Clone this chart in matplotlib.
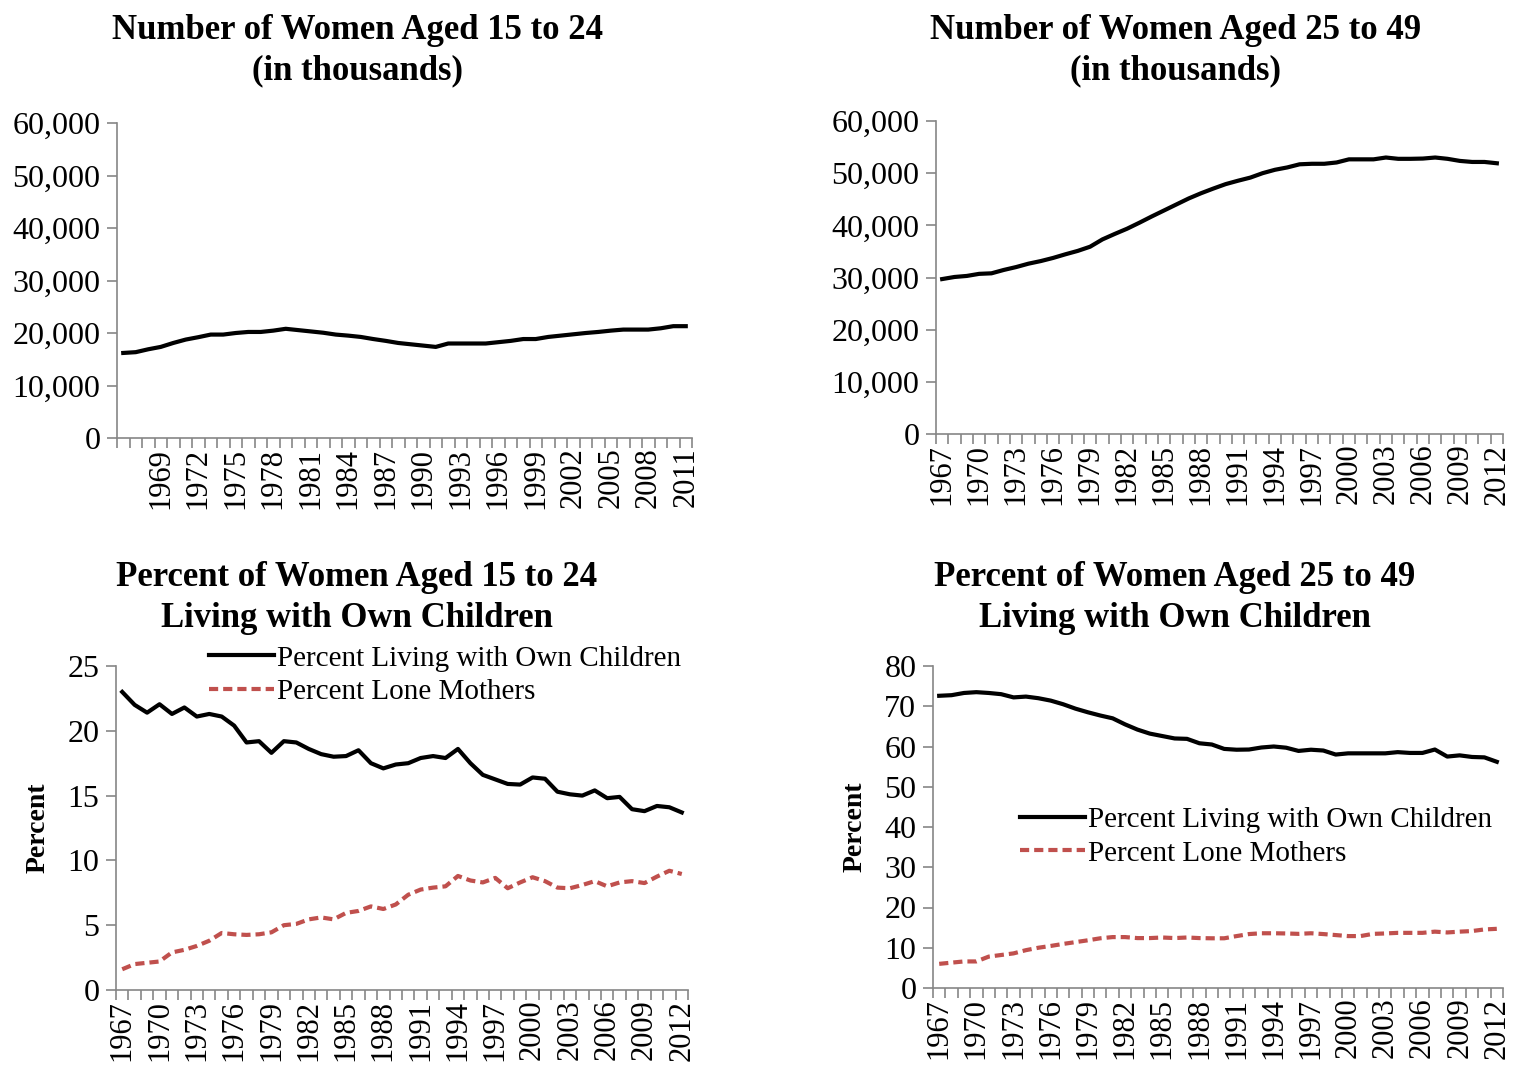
import matplotlib
matplotlib.use("Agg")
import matplotlib.pyplot as plt
from matplotlib.ticker import FuncFormatter, FixedLocator

plt.rcParams['font.family'] = ['Liberation Serif', 'DejaVu Serif']

# data
years_a = list(range(1966, 2012))
years_b = list(range(1967, 2013))

women_15_24 = [16200, 16350, 16900, 17350, 18100, 18750, 19200, 19700, 19700, 20000,
               20200, 20200, 20450, 20800, 20550, 20300, 20050, 19700, 19500, 19250,
               18850, 18500, 18100, 17850, 17600, 17350, 18000, 18000, 18000, 18000,
               18250, 18500, 18850, 18850, 19250, 19500, 19750, 20000, 20200, 20450,
               20650, 20650, 20650, 20900, 21300, 21300]

women_25_49 = [29700, 30100, 30300, 30700, 30800, 31450, 32000, 32650, 33150, 33750,
               34450, 35100, 35900, 37300, 38350, 39350, 40500, 41700, 42850, 44000,
               45150, 46150, 47050, 47900, 48550, 49150, 50000, 50650, 51100, 51700,
               51800, 51800, 52050, 52650, 52650, 52650, 53000, 52750, 52750, 52800,
               53000, 52750, 52350, 52150, 52150, 51900]

own_15_24 = [23.0, 22.0, 21.4, 22.05, 21.3, 21.8, 21.1, 21.3, 21.1, 20.4,
             19.1, 19.2, 18.3, 19.2, 19.1, 18.6, 18.2, 18.0, 18.05, 18.5,
             17.5, 17.1, 17.4, 17.5, 17.9, 18.05, 17.9, 18.6, 17.5, 16.6,
             16.25, 15.9, 15.85, 16.4, 16.3, 15.3, 15.1, 15.0, 15.4, 14.8,
             14.9, 13.95, 13.8, 14.2, 14.1, 13.7]

lone_15_24 = [1.6, 2.0, 2.1, 2.2, 2.9, 3.1, 3.4, 3.8, 4.4, 4.3,
              4.25, 4.3, 4.45, 5.0, 5.1, 5.45, 5.6, 5.45, 5.95, 6.1,
              6.45, 6.25, 6.6, 7.35, 7.75, 7.9, 8.0, 8.8, 8.45, 8.3,
              8.65, 7.85, 8.3, 8.7, 8.4, 7.9, 7.85, 8.1, 8.4, 8.0,
              8.3, 8.4, 8.25, 8.75, 9.2, 8.95]

own_25_49 = [72.6, 72.75, 73.3, 73.5, 73.3, 73.0, 72.2, 72.4, 72.0, 71.4,
             70.5, 69.4, 68.5, 67.7, 67.0, 65.5, 64.2, 63.2, 62.6, 62.0,
             61.9, 60.8, 60.5, 59.4, 59.2, 59.25, 59.75, 60.0, 59.7, 58.9,
             59.2, 59.0, 58.0, 58.3, 58.3, 58.3, 58.3, 58.6, 58.4, 58.4,
             59.25, 57.5, 57.8, 57.4, 57.3, 56.2]

lone_25_49 = [6.0, 6.3, 6.6, 6.6, 7.8, 8.2, 8.6, 9.4, 10.0, 10.45,
              10.95, 11.4, 11.85, 12.35, 12.65, 12.65, 12.4, 12.4, 12.55, 12.4,
              12.55, 12.4, 12.35, 12.35, 12.9, 13.4, 13.6, 13.6, 13.55, 13.45,
              13.6, 13.4, 13.15, 12.9, 12.9, 13.45, 13.55, 13.7, 13.7, 13.7,
              14.0, 13.8, 14.0, 14.15, 14.55, 14.7]

labels_a = [str(y) if (y - 1966) % 3 == 0 and y != 1966 else '' for y in years_a]
labels_b = [str(y) if (y - 1967) % 3 == 0 else '' for y in years_b]

W, H = 1513, 1065
fig = plt.figure(figsize=(W / 100, H / 100), dpi=100)

AX_GRAY = '#868686'
RED = '#C0504D'


def px_axes(l, t, r, b):
    return fig.add_axes([l / W, 1 - b / H, (r - l) / W, (b - t) / H])


def style(ax, years, labels, ymax, ystep, comma=False):
    n = len(years)
    ax.set_xlim(-0.5, n - 0.5)
    ax.set_ylim(0, ymax)
    for s in ['top', 'right']:
        ax.spines[s].set_visible(False)
    for s in ['left', 'bottom']:
        ax.spines[s].set_color(AX_GRAY)
        ax.spines[s].set_linewidth(1.2)
    ax.set_yticks(range(0, ymax + 1, ystep))
    if comma:
        ax.yaxis.set_major_formatter(FuncFormatter(lambda v, p: f'{int(v):,}'))
    ax.tick_params(axis='y', length=7, width=1.2, color=AX_GRAY, labelsize=23, pad=5)
    ax.set_xticks(range(n))
    ax.set_xticklabels(labels, rotation=90)
    ax.xaxis.set_minor_locator(FixedLocator([i - 0.5 for i in range(n + 1)]))
    ax.tick_params(axis='x', which='major', length=0, labelsize=22, pad=7)
    ax.tick_params(axis='x', which='minor', length=7, width=1.2, color=AX_GRAY)


def title(x, y, lines):
    fig.text(x / W, 1 - y / H, lines, ha='center', va='center', fontsize=25,
             fontweight='bold', linespacing=1.3)


def legend(ax, x, y):
    ax.legend(loc='upper left', bbox_to_anchor=(x, y), frameon=False,
              fontsize=21, handlelength=2.2, handletextpad=0.1, labelspacing=0.25,
              borderaxespad=0)


# top left
ax1 = px_axes(117, 123, 692, 438)
ax1.plot(range(len(years_a)), women_15_24, color='black', lw=3)
style(ax1, years_a, labels_a, 60000, 10000, comma=True)
title(357, 51, 'Number of Women Aged 15 to 24\n(in thousands)')

# top right
ax2 = px_axes(936, 121, 1503, 434)
ax2.plot(range(len(years_b)), women_25_49, color='black', lw=3)
style(ax2, years_b, labels_b, 60000, 10000, comma=True)
title(1176, 51, 'Number of Women Aged 25 to 49\n(in thousands)')

# bottom left
ax3 = px_axes(116, 666, 688, 990)
ax3.plot(range(len(years_b)), own_15_24, color='black', lw=3,
         label='Percent Living with Own Children')
ax3.plot(range(len(years_b)), lone_15_24, color=RED, lw=3, ls=(0, (2.2, 1.2)),
         label='Percent Lone Mothers')
style(ax3, years_b, labels_b, 25, 5)
ax3.set_ylabel('Percent', fontsize=20, fontweight='bold', labelpad=12)
legend(ax3, 0.143, 1.1)
title(357, 598, 'Percent of Women Aged 15 to 24\nLiving with Own Children')

# bottom right
ax4 = px_axes(933, 666, 1503, 988)
ax4.plot(range(len(years_b)), own_25_49, color='black', lw=3,
         label='Percent Living with Own Children')
ax4.plot(range(len(years_b)), lone_25_49, color=RED, lw=3, ls=(0, (2.2, 1.2)),
         label='Percent Lone Mothers')
style(ax4, years_b, labels_b, 80, 10)
ax4.set_ylabel('Percent', fontsize=20, fontweight='bold', labelpad=12)
legend(ax4, 0.133, 0.6)
title(1175, 598, 'Percent of Women Aged 25 to 49\nLiving with Own Children')

fig.savefig('out.png', dpi=100)
